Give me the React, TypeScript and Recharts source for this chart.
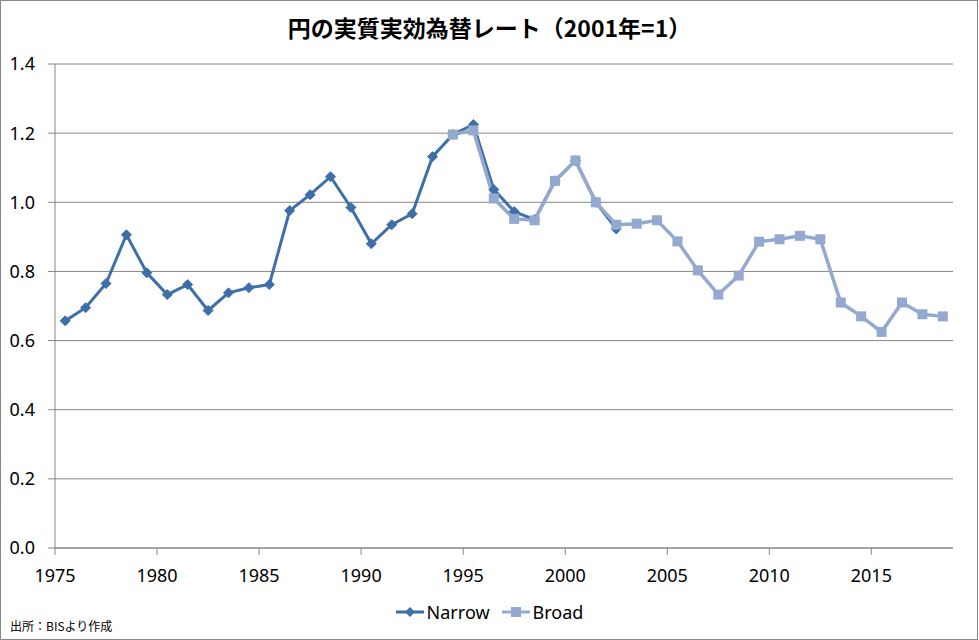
import React from "react";
import { LineChart, Line, XAxis, YAxis, CartesianGrid, Legend } from "recharts";

// annual averages, plotted at mid-year
const years = [
  1975, 1976, 1977, 1978, 1979, 1980, 1981, 1982, 1983, 1984, 1985, 1986, 1987, 1988, 1989,
  1990, 1991, 1992, 1993, 1994, 1995, 1996, 1997, 1998, 1999, 2000, 2001, 2002, 2003, 2004,
  2005, 2006, 2007, 2008, 2009, 2010, 2011, 2012, 2013, 2014, 2015, 2016, 2017, 2018,
];

const narrowStart = 1975;
const narrowValues = [
  0.657, 0.695, 0.765, 0.906, 0.796, 0.733, 0.762, 0.687, 0.738, 0.753, 0.762, 0.976, 1.022, 1.074,
  0.985, 0.88, 0.935, 0.967, 1.132, 1.196, 1.225, 1.037, 0.973, 0.95, 1.062, 1.12, 1.0, 0.923,
];

const broadStart = 1994;
const broadValues = [
  1.196, 1.208, 1.011, 0.952, 0.948, 1.062, 1.121, 1.0, 0.935, 0.938, 0.948, 0.887, 0.803, 0.733,
  0.788, 0.886, 0.893, 0.903, 0.893, 0.71, 0.67, 0.625, 0.71, 0.676, 0.67,
];

const xTicks = [1975, 1980, 1985, 1990, 1995, 2000, 2005, 2010, 2015];
const yTicks = [0, 0.2, 0.4, 0.6, 0.8, 1.0, 1.2, 1.4];

const NARROW = "#3f6fa8";
const BROAD = "#93a9d0";
const GRID = "#868686";

const data = years.map((year) => {
  const n = narrowValues[year - narrowStart];
  const b = broadValues[year - broadStart];
  return {
    x: year + 0.5,
    narrow: n === undefined ? null : n,
    broad: b === undefined ? null : b,
  };
});

function Diamond(props: any) {
  const { cx, cy, index } = props;
  if (cx == null || cy == null) return <g key={`n${index}`} />;
  const r = 5;
  return (
    <path
      key={`n${index}`}
      d={`M${cx},${cy - r}L${cx + r},${cy}L${cx},${cy + r}L${cx - r},${cy}Z`}
      fill={NARROW}
      stroke={NARROW}
      strokeWidth={1}
    />
  );
}

function Square(props: any) {
  const { cx, cy, index } = props;
  if (cx == null || cy == null) return <g key={`b${index}`} />;
  return <rect key={`b${index}`} x={cx - 5} y={cy - 5} width={10} height={10} fill={BROAD} />;
}

function LegendContent() {
  const items = [
    { name: "Narrow", color: NARROW, shape: "diamond" },
    { name: "Broad", color: BROAD, shape: "square" },
  ];
  return (
    <div style={{ display: "flex", justifyContent: "center", alignItems: "center", gap: 12 }}>
      {items.map((it) => (
        <div key={it.name} style={{ display: "flex", alignItems: "center" }}>
          <svg width={28} height={12} style={{ marginRight: 3 }}>
            <line x1={0} y1={6} x2={28} y2={6} stroke={it.color} strokeWidth={3} />
            {it.shape === "diamond" ? (
              <path d="M14,1L19,6L14,11L9,6Z" fill={it.color} />
            ) : (
              <rect x={9} y={1} width={10} height={10} fill={it.color} />
            )}
          </svg>
          <span style={{ fontSize: 18, color: "#000" }}>{it.name}</span>
        </div>
      ))}
    </div>
  );
}

export default function App() {
  return (
    <div
      style={{
        position: "absolute",
        left: 0,
        top: 0,
        width: 979,
        height: 640,
        background: "#fff",
        fontFamily: "'Noto Sans', sans-serif",
      }}
    >
      <div
        style={{
          position: "absolute",
          top: 11,
          left: 0,
          width: 979,
          textAlign: "center",
          fontFamily: "'Noto Sans CJK JP', sans-serif",
          fontWeight: 700,
          fontSize: 23,
          lineHeight: "32px",
          color: "#000",
        }}
      >
        円の実質実効為替レート（2001年=1）
      </div>
      <LineChart
        width={979}
        height={640}
        data={data}
        margin={{ top: 64, right: 26, bottom: 62, left: 0 }}
      >
        <CartesianGrid vertical={false} stroke={GRID} strokeWidth={1} />
        <XAxis
          dataKey="x"
          type="number"
          domain={[1975, 2019]}
          ticks={xTicks}
          interval={0}
          height={30}
          tickSize={7}
          tickMargin={14}
          axisLine={{ stroke: GRID }}
          tickLine={{ stroke: GRID }}
          tick={{ fontSize: 18, fill: "#000", fontFamily: "'Noto Sans', sans-serif" }}
        />
        <YAxis
          type="number"
          domain={[0, 1.4]}
          ticks={yTicks}
          interval={0}
          width={55}
          tickSize={7}
          tickMargin={13}
          axisLine={{ stroke: GRID }}
          tickLine={{ stroke: GRID }}
          tickFormatter={(v: number) => v.toFixed(1)}
          tick={{ fontSize: 18, fill: "#000", fontFamily: "'Noto Sans', sans-serif" }}
        />
        <Legend
          layout="horizontal"
          verticalAlign="middle"
          align="center"
          wrapperStyle={{ top: 600, left: 0, width: 979 }}
          content={<LegendContent />}
        />
        <Line
          type="linear"
          dataKey="narrow"
          name="Narrow"
          stroke={NARROW}
          strokeWidth={3}
          dot={Diamond}
          activeDot={false}
          isAnimationActive={false}
        />
        <Line
          type="linear"
          dataKey="broad"
          name="Broad"
          stroke={BROAD}
          strokeWidth={3.5}
          dot={Square}
          activeDot={false}
          isAnimationActive={false}
        />
      </LineChart>
      <div
        style={{
          position: "absolute",
          left: 10,
          top: 617,
          fontFamily: "'Noto Sans CJK JP', sans-serif",
          fontSize: 12,
          lineHeight: "18px",
          color: "#000",
        }}
      >
        出所：BISより作成
      </div>
      <div
        style={{
          position: "absolute",
          left: 0,
          top: 0,
          width: 978,
          height: 640,
          boxSizing: "border-box",
          border: `1px solid ${GRID}`,
          pointerEvents: "none",
        }}
      />
    </div>
  );
}
